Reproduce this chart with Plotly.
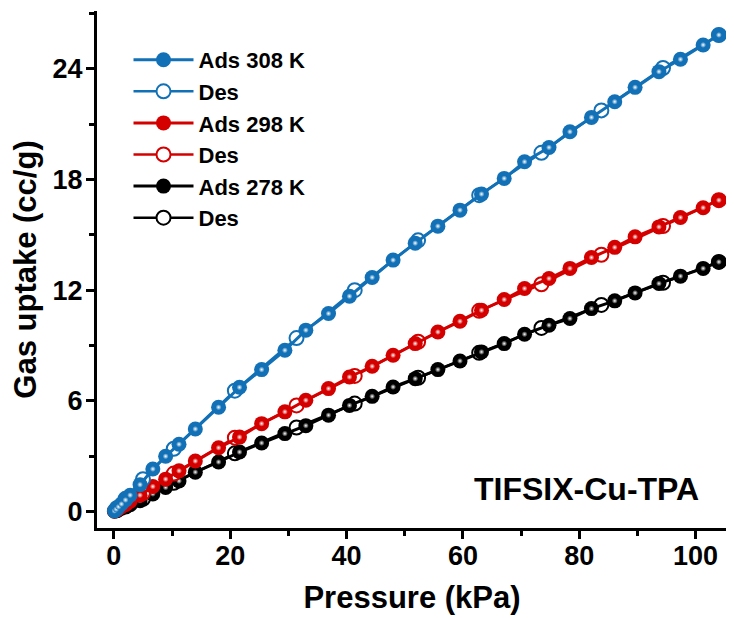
import plotly.graph_objects as go

# ---------------- data ----------------
p_ads = [0.1, 0.4, 0.8, 1.3, 2.0, 2.8, 4.5, 6.7, 8.9, 11.2, 14.0, 18.0, 21.6, 25.4, 29.4,
         33.0, 36.9, 40.5, 44.4, 48.0, 51.8, 55.7, 59.5, 63.2, 67.1, 70.6, 74.8, 78.4,
         82.1, 86.1, 89.6, 93.7, 97.4, 101.3, 104.0]

ads_308 = [0.03, 0.12, 0.25, 0.40, 0.62, 0.88, 1.45, 2.30, 2.99, 3.64, 4.47, 5.65, 6.73,
           7.69, 8.74, 9.83, 10.73, 11.67, 12.69, 13.63, 14.55, 15.47, 16.34, 17.21, 18.06,
           18.96, 19.74, 20.59, 21.37, 22.22, 23.00, 23.85, 24.52, 25.30, 25.84]
ads_298 = [0.02, 0.08, 0.16, 0.26, 0.40, 0.55, 0.88, 1.35, 1.75, 2.20, 2.73, 3.45, 4.03,
           4.76, 5.40, 6.03, 6.66, 7.29, 7.87, 8.47, 9.10, 9.73, 10.31, 10.91, 11.49,
           12.09, 12.63, 13.18, 13.77, 14.32, 14.89, 15.43, 15.94, 16.47, 16.88]
ads_278 = [0.01, 0.05, 0.10, 0.17, 0.26, 0.36, 0.58, 0.95, 1.30, 1.65, 2.13, 2.68, 3.22,
           3.71, 4.22, 4.65, 5.22, 5.75, 6.24, 6.75, 7.20, 7.69, 8.16, 8.65, 9.10, 9.61,
           10.10, 10.46, 11.00, 11.42, 11.85, 12.36, 12.76, 13.18, 13.53]

p_des = [104.0, 94.4, 83.8, 73.5, 62.8, 52.3, 41.4, 31.4, 20.8, 10.3, 5.0, 2.0, 0.5]
des_308 = [25.84, 24.05, 21.75, 19.45, 17.15, 14.70, 12.00, 9.40, 6.55, 3.40, 1.75, 0.68, 0.17]
des_298 = [16.88, 15.48, 13.92, 12.32, 10.88, 9.20, 7.35, 5.75, 4.00, 2.05, 1.00, 0.40, 0.10]
des_278 = [13.53, 12.40, 11.20, 9.95, 8.60, 7.25, 5.85, 4.55, 3.15, 1.55, 0.68, 0.26, 0.06]

x_ticks = [0, 20, 40, 60, 80, 100]
y_ticks = [0, 6, 12, 18, 24]

x_title = "Pressure (kPa)"
y_title = "Gas uptake (cc/g)"
label = "TIFSIX-Cu-TPA"

series = [
    # (name_ads, ads, des, color, rank)
    ("Ads 278 K", ads_278, des_278, "#000000", 5),
    ("Ads 298 K", ads_298, des_298, "#d40000", 3),
    ("Ads 308 K", ads_308, des_308, "#1170b6", 1),
]

FONT = "Liberation Sans, Arial, sans-serif"

fig = go.Figure()
for name, ads, des, col, rank in series:
    fig.add_trace(go.Scatter(
        x=p_des, y=des, mode="lines+markers", name="Des",
        line=dict(color=col, width=2.5),
        marker=dict(symbol="circle", size=14, color="white",
                    line=dict(color=col, width=2)),
        legendrank=rank + 1, legendgroup=name + "d"))
    fig.add_trace(go.Scatter(
        x=p_ads, y=ads, mode="lines+markers", name=name,
        line=dict(color=col, width=3),
        marker=dict(symbol="circle", size=15, color=col, line=dict(width=0)),
        legendrank=rank, legendgroup=name + "a"))
    fig.add_trace(go.Scatter(
        x=p_ads, y=ads, mode="markers", showlegend=False, hoverinfo="skip",
        marker=dict(symbol="circle", size=6, color=col, line=dict(width=0),
                    gradient=dict(type="radial", color="white"))))

fig.add_annotation(x=100.9, y=1.2, xref="x", yref="y", text="<b>%s</b>" % label,
                   showarrow=False, xanchor="right", yanchor="middle",
                   font=dict(family=FONT, size=32, color="black"))

axis_common = dict(
    showline=True, linecolor="black", linewidth=3, mirror=False,
    ticks="outside", ticklen=8, tickwidth=3, tickcolor="black",
    showgrid=False, zeroline=False, automargin=False,
    tickfont=dict(family=FONT, size=27, color="black", weight="bold"),
)

fig.update_xaxes(range=[-2.9, 105.4], tickvals=x_ticks, ticklabelstandoff=-6,
                 title=dict(text=x_title, font=dict(family=FONT, size=31, color="black", weight="bold"),
                            standoff=16),
                 minor=dict(ticks="outside", ticklen=5, tickwidth=2.5, tickcolor="black", dtick=10,
                            tick0=0, showgrid=False),
                 **axis_common)
fig.update_yaxes(range=[-0.9, 27.14], tickvals=y_ticks, ticklabelstandoff=-2,
                 title=dict(text=y_title, font=dict(family=FONT, size=31, color="black", weight="bold"),
                            standoff=10),
                 minor=dict(ticks="outside", ticklen=5, tickwidth=2.5, tickcolor="black", dtick=3,
                            tick0=0, showgrid=False),
                 **axis_common)

# the page body has an 8 px margin, so the figure is sized to the visible window
fig.update_layout(
    width=726, height=610,
    margin=dict(l=89, r=7, t=3, b=90),
    plot_bgcolor="white", paper_bgcolor="white",
    font=dict(family=FONT, color="black"),
    legend=dict(x=0.05, y=0.946, xanchor="left", yanchor="top",
                font=dict(family=FONT, size=22, color="black", weight="bold"),
                bgcolor="rgba(0,0,0,0)", tracegroupgap=0, itemwidth=60),
    showlegend=True,
)

fig.write_html("out.html")
